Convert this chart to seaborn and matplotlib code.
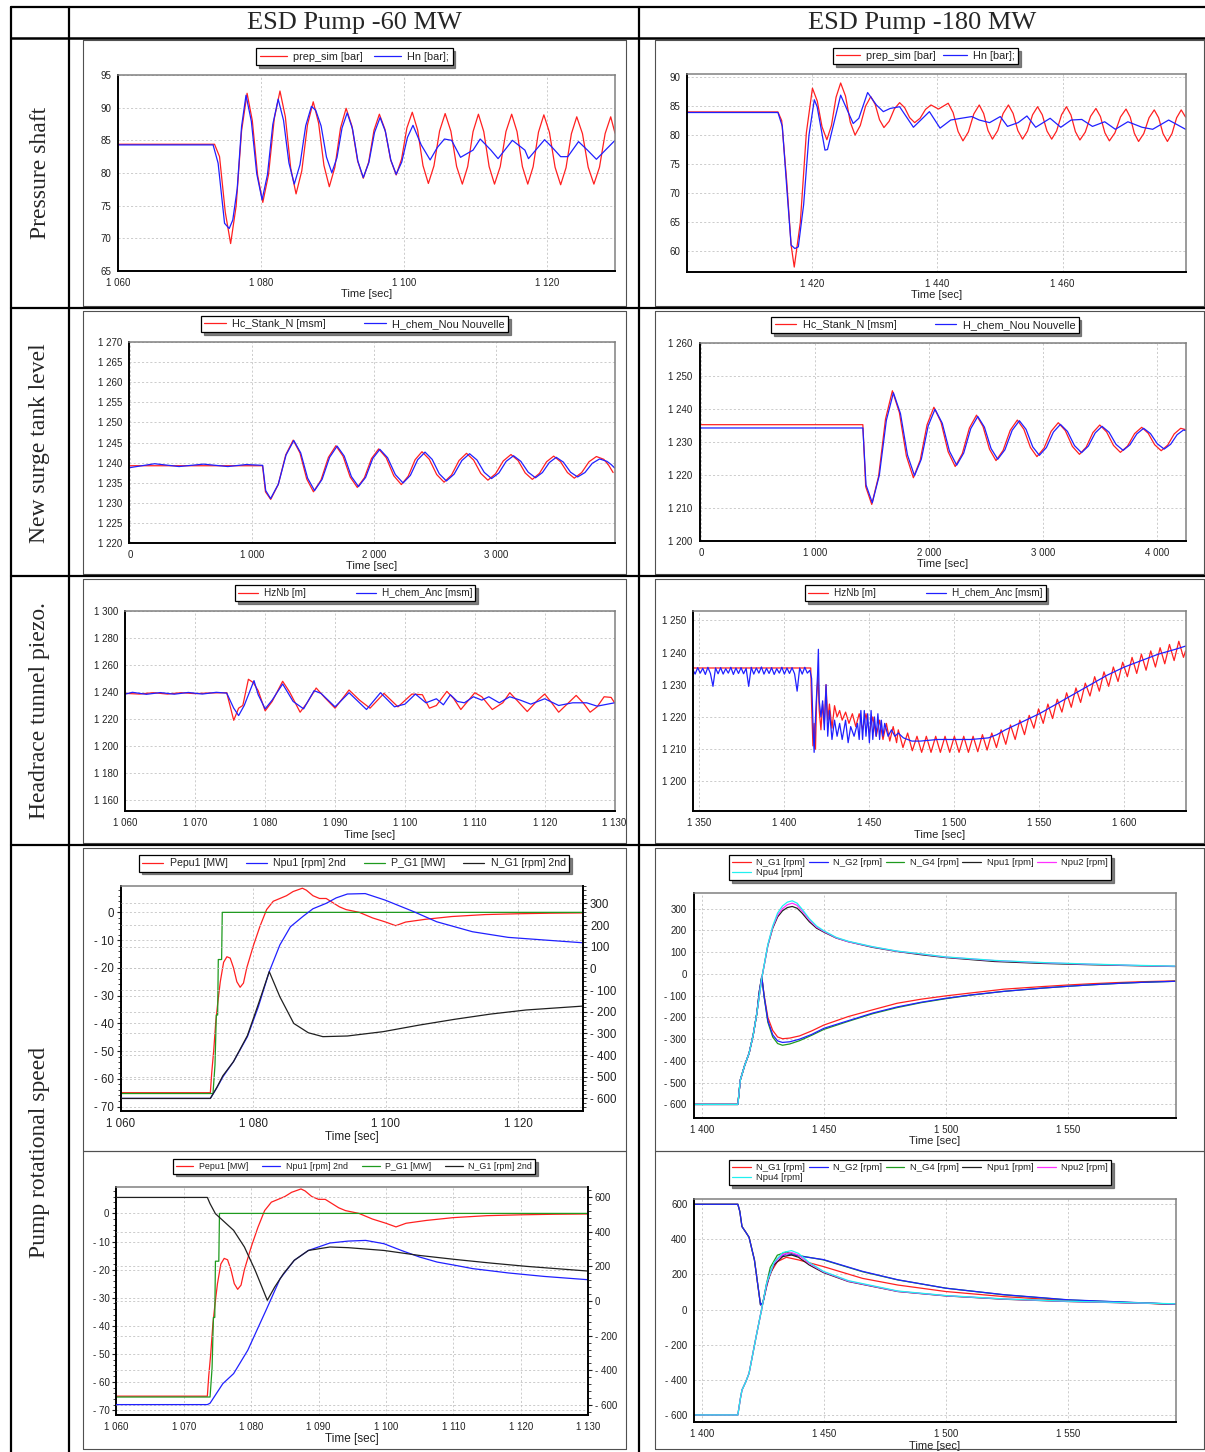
import matplotlib
matplotlib.use("Agg")
import matplotlib.pyplot as plt
import seaborn as sns
from matplotlib.ticker import MultipleLocator, FuncFormatter
from matplotlib.lines import Line2D

# ---------------- DATA ----------------
col_titles = ["ESD Pump -60 MW", "ESD Pump -180 MW"]
row_titles = ["Pressure shaft", "New surge tank level", "Headrace tunnel piezo.", "Pump rotational speed"]

# Panel 1: pressure shaft, -60 MW  (time [s], value [bar])
p1_prep = [(1060, 84.4), (1073.5, 84.4), (1074.2, 82.5), (1075.0, 74.0), (1075.75, 69.2), (1076.52, 74.95),
           (1077.28, 86.45), (1078.05, 92.2), (1078.78, 88.03), (1079.52, 79.68), (1080.25, 75.5), (1081.05, 79.76),
           (1081.85, 88.29), (1082.65, 92.55), (1083.4, 88.61), (1084.15, 80.74), (1084.9, 76.8), (1085.7, 80.33),
           (1086.5, 87.38), (1087.3, 90.9), (1088.05, 87.65), (1088.8, 81.15), (1089.55, 77.9), (1090.33, 80.9),
           (1091.12, 86.9), (1091.9, 89.9), (1092.7, 87.23), (1093.5, 81.88), (1094.3, 79.2), (1095.05, 81.65),
           (1095.8, 86.55), (1096.55, 89.0), (1097.33, 86.68), (1098.12, 82.03), (1098.9, 79.7), (1099.65, 82.1),
           (1100.4, 86.9), (1101.15, 89.3), (1101.9, 86.58), (1102.65, 81.13), (1103.4, 78.4), (1104.18, 81.08),
           (1104.97, 86.43), (1105.75, 89.1), (1106.55, 86.4), (1107.35, 81.0), (1108.15, 78.3), (1108.9, 80.98),
           (1109.65, 86.33), (1110.4, 89.0), (1111.15, 86.33), (1111.9, 80.98), (1112.65, 78.3), (1113.45, 80.98),
           (1114.25, 86.33), (1115.05, 89.0), (1115.8, 86.33), (1116.55, 80.98), (1117.3, 78.3), (1118.05, 80.95),
           (1118.8, 86.25), (1119.55, 88.9), (1120.33, 86.23), (1121.12, 80.88), (1121.9, 78.2), (1122.65, 80.8),
           (1123.4, 86.0), (1124.15, 88.6), (1124.95, 86.03), (1125.75, 80.88), (1126.55, 78.3), (1127.33, 80.88),
           (1128.12, 86.03), (1128.9, 88.6), (1129.5, 86.1)]
p1_hn = [(1060, 84.3), (1073.3, 84.3), (1074.0, 81.5), (1074.9, 72.3), (1075.55, 71.5), (1076.05, 72.8),
         (1076.67, 77.58), (1077.28, 87.13), (1077.9, 91.9), (1078.65, 87.9), (1079.4, 79.9), (1080.15, 75.9),
         (1080.9, 79.75), (1081.65, 87.45), (1082.4, 91.3), (1083.15, 88.05), (1083.9, 81.55), (1084.65, 78.3),
         (1085.45, 81.28), (1086.25, 87.23), (1087.05, 90.2), (1087.65, 89.6), (1088.4, 87.21), (1089.15, 82.44),
         (1089.9, 80.05), (1090.62, 82.34), (1091.33, 86.91), (1092.05, 89.2), (1092.8, 86.73), (1093.55, 81.78),
         (1094.3, 79.3), (1095.08, 81.6), (1095.87, 86.2), (1096.65, 88.5), (1097.4, 86.33), (1098.15, 81.98),
         (1098.9, 79.8), (1099.68, 81.68), (1100.47, 85.43), (1101.25, 87.3), (1102.4, 84.3), (1103.65, 82.0),
         (1104.65, 83.9), (1105.65, 85.2), (1106.65, 85.0), (1107.9, 82.4), (1109.65, 83.5), (1110.65, 85.2),
         (1112.15, 83.5), (1113.15, 82.2), (1115.15, 85.0), (1116.9, 83.5), (1117.4, 82.2), (1119.65, 85.1),
         (1120.65, 84.0), (1121.9, 82.5), (1122.9, 82.5), (1124.4, 84.8), (1125.65, 83.5), (1126.9, 82.1),
         (1129.5, 85.0)]

# Panel 2: pressure shaft, -180 MW
p2_prep = [(1400, 84.0), (1414.6, 84.0), (1415.2, 82.5), (1416.0, 72.0), (1416.7, 61.0), (1417.2, 57.2),
           (1418.17, 64.93), (1419.13, 80.38), (1420.1, 88.1), (1420.87, 85.88), (1421.63, 81.43), (1422.4, 79.2),
           (1423.13, 81.65), (1423.87, 86.55), (1424.6, 89.0), (1425.37, 86.75), (1426.13, 82.25), (1426.9, 80.0),
           (1427.73, 81.66), (1428.57, 84.99), (1429.4, 86.65), (1430.1, 85.31), (1430.8, 82.64), (1431.5, 81.3),
           (1432.33, 82.38), (1433.17, 84.53), (1434.0, 85.6), (1434.8, 84.74), (1435.6, 83.01), (1436.4, 82.15),
           (1437.27, 82.91), (1438.13, 84.44), (1439.0, 85.2), (1440.2, 84.5), (1441.75, 85.5), (1442.53, 83.88),
           (1443.32, 80.63), (1444.1, 79.0), (1444.97, 80.55), (1445.83, 83.65), (1446.7, 85.2), (1447.4, 83.73),
           (1448.1, 80.78), (1448.8, 79.3), (1449.65, 80.78), (1450.5, 83.73), (1451.35, 85.2), (1452.1, 83.73),
           (1452.85, 80.78), (1453.6, 79.3), (1454.4, 80.7), (1455.2, 83.5), (1456.0, 84.9), (1456.75, 83.5),
           (1457.5, 80.7), (1458.25, 79.3), (1459.03, 80.7), (1459.82, 83.5), (1460.6, 84.9), (1461.32, 83.46),
           (1462.03, 80.59), (1462.75, 79.15), (1463.6, 80.51), (1464.45, 83.24), (1465.3, 84.6), (1466.02, 83.2),
           (1466.73, 80.4), (1467.45, 79.0), (1468.33, 80.38), (1469.22, 83.13), (1470.1, 84.5), (1470.77, 83.1),
           (1471.43, 80.3), (1472.1, 78.9), (1472.93, 80.26), (1473.77, 82.99), (1474.6, 84.35), (1475.3, 82.99),
           (1476.0, 80.26), (1476.7, 78.9), (1477.43, 80.26), (1478.17, 82.99), (1478.9, 84.35), (1479.6, 83.1)]
p2_hn = [(1400, 83.9), (1414.6, 83.9), (1415.3, 81.5), (1416.0, 71.0), (1416.7, 61.0), (1417.3, 60.4),
         (1417.85, 60.7), (1418.7, 68.0), (1419.55, 80.0), (1420.4, 86.1), (1420.85, 84.9), (1422.1, 77.4),
         (1422.5, 77.5), (1424.6, 86.9), (1426.6, 82.0), (1427.5, 82.9), (1428.9, 87.35), (1430.3, 85.2),
         (1431.4, 84.05), (1432.5, 84.6), (1434.0, 84.9), (1436.2, 81.35), (1438.75, 84.05), (1440.45, 81.2),
         (1442.15, 82.6), (1443.8, 82.9), (1445.5, 83.2), (1446.7, 82.6), (1448.35, 82.15), (1450.05, 83.2),
         (1451.2, 81.5), (1452.9, 82.15), (1454.3, 83.3), (1455.7, 81.35), (1458.0, 82.9), (1459.7, 81.35),
         (1461.35, 82.6), (1463.05, 82.7), (1464.75, 81.5), (1466.7, 82.3), (1468.4, 81.0), (1470.4, 82.3),
         (1472.65, 81.35), (1474.35, 81.0), (1476.9, 82.6), (1479.6, 81.0)]

# Panel 3: surge tank level, -60 MW
p3_hc = [(-10, 1239.2), (1084, 1239.2), (1108, 1232.7), (1151, 1230.8), (1212.3, 1234.5), (1273.7, 1241.9),
         (1335, 1245.6), (1390.3, 1242.4), (1445.7, 1235.9), (1501, 1232.7), (1562.3, 1235.6), (1623.7, 1241.3),
         (1685, 1244.2), (1743.3, 1241.6), (1801.7, 1236.4), (1860, 1233.8), (1918.3, 1236.2), (1976.7, 1241.0),
         (2035, 1243.4), (2097, 1241.2), (2159, 1236.7), (2221, 1234.5), (2277.3, 1236.6), (2333.7, 1240.7),
         (2390, 1242.7), (2450.3, 1240.8), (2510.7, 1237.0), (2571, 1235.1), (2632.3, 1236.9), (2693.7, 1240.5),
         (2755, 1242.3), (2813.3, 1240.6), (2871.7, 1237.3), (2930, 1235.6), (2993, 1237.2), (3056, 1240.4),
         (3119, 1242.0), (3177.3, 1240.5), (3235.7, 1237.4), (3294, 1235.8), (3352.3, 1237.3), (3410.7, 1240.2),
         (3469, 1241.6), (3525.3, 1240.2), (3581.7, 1237.5), (3638, 1236.1), (3698.3, 1237.5), (3758.7, 1240.2),
         (3819, 1241.5), (3880, 1240.8), (3920, 1239.3), (3956, 1237.5)]
p3_hn = [(-10, 1238.7), (200, 1239.7), (400, 1239.0), (600, 1239.6), (800, 1239.0), (950, 1239.5), (1085, 1239.3),
         (1110, 1233.0), (1150, 1231.0), (1213.3, 1234.6), (1276.7, 1241.9), (1340, 1245.5), (1396.7, 1242.4),
         (1453.3, 1236.1), (1510, 1233.0), (1571.7, 1235.8), (1633.3, 1241.3), (1695, 1244.1), (1753.3, 1241.6),
         (1811.7, 1236.5), (1870, 1234.0), (1928.3, 1236.3), (1986.7, 1241.0), (2045, 1243.3), (2108.3, 1241.2),
         (2171.7, 1237.0), (2235, 1234.9), (2295, 1236.8), (2355, 1240.7), (2415, 1242.6), (2473.3, 1240.8),
         (2531.7, 1237.2), (2590, 1235.4), (2653.3, 1237.1), (2716.7, 1240.5), (2780, 1242.2), (2840, 1240.65),
         (2900, 1237.55), (2960, 1236.0), (3020, 1237.4), (3080, 1240.3), (3140, 1241.7), (3200, 1240.3),
         (3260, 1237.6), (3320, 1236.2), (3376.7, 1237.5), (3433.3, 1240.0), (3490, 1241.3), (3548.3, 1240.1),
         (3606.7, 1237.6), (3665, 1236.4), (3725, 1237.5), (3785, 1239.8), (3845, 1240.9), (3905, 1240.3),
         (3940, 1239.5), (3970, 1238.6)]

# Panel 4: surge tank level, -180 MW
p4_hc = [(-15, 1235.3), (1417, 1235.3), (1442, 1216.5), (1495, 1211.1), (1555.3, 1219.7), (1615.7, 1237.0),
         (1676, 1245.6), (1737.3, 1239.0), (1798.7, 1225.8), (1860, 1219.2), (1920, 1224.55), (1980, 1235.25),
         (2040, 1240.6), (2102.3, 1236.1), (2164.7, 1227.1), (2227, 1222.6), (2289.3, 1226.5), (2351.7, 1234.3),
         (2414, 1238.2), (2471, 1234.75), (2528, 1227.85), (2585, 1224.4), (2647.3, 1227.5), (2709.7, 1233.6),
         (2772, 1236.7), (2829.3, 1233.9), (2886.7, 1228.4), (2944, 1225.6), (3006.3, 1228.2), (3068.7, 1233.3),
         (3131, 1235.9), (3193, 1233.5), (3255, 1228.7), (3317, 1226.3), (3376.3, 1228.5), (3435.7, 1232.95),
         (3495, 1235.2), (3555.3, 1233.1), (3615.7, 1229.0), (3676, 1226.9), (3738.3, 1228.8), (3800.7, 1232.6),
         (3863, 1234.5), (3920, 1232.7), (3977, 1229.2), (4034, 1227.4), (4091, 1229.1), (4148, 1232.5),
         (4205, 1234.2), (4248, 1233.8)]
p4_hn = [(-15, 1234.3), (1417, 1234.3), (1445, 1217.0), (1500, 1211.6), (1561.7, 1220.0), (1623.3, 1236.65),
         (1685, 1245.0), (1746.7, 1238.7), (1808.3, 1226.1), (1870, 1219.8), (1930, 1224.85), (1990, 1234.95),
         (2050, 1240.0), (2113.3, 1235.75), (2176.7, 1227.25), (2240, 1223.0), (2301.7, 1226.7), (2363.3, 1234.1),
         (2425, 1237.8), (2483.3, 1234.55), (2541.7, 1228.05), (2600, 1224.8), (2663.3, 1227.7), (2726.7, 1233.6),
         (2790, 1236.5), (2848.3, 1233.9), (2906.7, 1228.6), (2965, 1226.0), (3026.7, 1228.35), (3088.3, 1233.05),
         (3150, 1235.4), (3211.7, 1233.25), (3273.3, 1228.95), (3335, 1226.8), (3395, 1228.8), (3455, 1232.8),
         (3515, 1234.8), (3576.7, 1233.0), (3638.3, 1229.3), (3700, 1227.5), (3760, 1229.2), (3820, 1232.5),
         (3880, 1234.2), (3940, 1232.6), (4000, 1229.5), (4060, 1227.9), (4116.7, 1229.35), (4173.3, 1232.25),
         (4230, 1233.7), (4248, 1233.5)]

# Panel 5: headrace piezo, -60 MW
p5_hz_t = [1060, 1062, 1064, 1066, 1068, 1070, 1072, 1074.5, 1075.5, 1076.2, 1076.8, 1077.6, 1078.3, 1079,
           1080, 1081, 1082.5, 1083.5, 1085, 1086, 1087.3, 1088.5, 1090, 1092, 1093.5, 1095, 1097, 1099, 1101,
           1102.5, 1103.5, 1104.5, 1106, 1107, 1108, 1110, 1111, 1112.5, 1114, 1115, 1116, 1117.5, 1119, 1120,
           1121, 1122, 1123, 1124.5, 1125.5, 1126.5, 1127.5, 1128.5, 1129.5, 1130]
p5_hz_v = [1239, 1238.5, 1239.5, 1238.5, 1239.5, 1238.8, 1239.3, 1239.5, 1219, 1228, 1230, 1249.5, 1247, 1241,
           1226, 1233, 1248, 1240, 1225, 1232, 1243, 1236, 1228, 1241.5, 1234, 1228, 1239, 1229, 1238.5,
           1238, 1228, 1230, 1240.5, 1235, 1227, 1239.5, 1236.5, 1227, 1232, 1239.5, 1234, 1225.5, 1234, 1238.5,
           1232, 1225, 1230, 1237.5, 1232, 1225, 1229, 1236.5, 1236, 1232]
p5_hc_t = [1060, 1061, 1063, 1065, 1067, 1069, 1071, 1073, 1074.5, 1075.5, 1076.2, 1077, 1078.4, 1079, 1080,
           1081, 1082.5, 1084, 1085.5, 1087, 1088, 1090, 1092, 1094.5, 1096.5, 1098.5, 1100, 1101.5, 1103,
           1104.5, 1105.5, 1106.5, 1107.5, 1108.5, 1109.8, 1111, 1112, 1113.5, 1115, 1116.5, 1118, 1120, 1122,
           1124, 1126, 1127.5, 1130]
p5_hc_v = [1238.5, 1239.8, 1238.3, 1239.6, 1238.4, 1239.7, 1238.5, 1239.8, 1239.2, 1228, 1222.5, 1230, 1248.5,
           1238, 1227.5, 1234, 1246, 1233, 1227.5, 1241, 1239, 1229, 1239.5, 1227, 1239.5, 1229, 1231, 1238.5,
           1232, 1235, 1230.5, 1238, 1233, 1232, 1236.5, 1234, 1236.5, 1232, 1236.5, 1234, 1231, 1235, 1230,
           1232, 1232, 1229.5, 1232]

# Panel 6: headrace piezo, -180 MW
p6_hz_t = [1346, 1415.5, 1416, 1416.8, 1417.5, 1418.3, 1419, 1419.8, 1420.5, 1421.5, 1422.5, 1423.5, 1424.5,
           1425.5, 1426.5, 1428, 1429.5, 1431, 1432.5, 1434, 1436, 1438, 1440, 1442, 1444, 1446, 1448, 1450,
           1452, 1454, 1456, 1458, 1460, 1462, 1464, 1466, 1467, 1469.75, 1472.5, 1475.25, 1478, 1480.75,
           1483.5, 1486.25, 1489, 1491.75, 1494.5, 1497.25, 1500, 1502.75, 1505.5, 1508.25, 1511, 1513.75,
           1516.5, 1519.25, 1522, 1524.75, 1527.5, 1530.25, 1533, 1535.75, 1538.5, 1541.25, 1544, 1546.75,
           1549.5, 1552.25, 1555, 1557.75, 1560.5, 1563.25, 1566, 1568.75, 1571.5, 1574.25, 1577, 1579.75,
           1582.5, 1585.25, 1588, 1590.75, 1593.5, 1596.25, 1599, 1601.75, 1604.5, 1607.25, 1610, 1612.75,
           1615.5, 1618.25, 1621, 1623.75, 1626.5, 1629.25, 1632, 1634.75, 1636]
p6_hz_v = [1235.2, 1235.2, 1224, 1211, 1218, 1210, 1226, 1233, 1222, 1216, 1224, 1218, 1230,
           1219, 1224, 1216.5, 1223.5, 1220, 1222, 1219, 1221.5, 1218, 1221, 1217, 1221, 1216, 1221, 1215,
           1220, 1214, 1219, 1213, 1218, 1212.5, 1217, 1212, 1216.0, 1210.5, 1215.0, 1209.5, 1214.0, 1209.0,
           1214.0, 1209.0, 1214.0, 1209.0, 1214.0, 1209.0, 1214.0, 1209.0, 1214.0, 1209.0, 1214.0, 1209.2,
           1214.5, 1209.7, 1215.0, 1210.5, 1216.0, 1211.5, 1217.5, 1213.0, 1219.0, 1214.5, 1220.5, 1216.5,
           1222.5, 1218.0, 1224.0, 1219.5, 1225.5, 1221.5, 1227.5, 1223.0, 1229.0, 1224.5, 1230.5, 1226.5,
           1232.5, 1228.0, 1234.0, 1229.5, 1235.5, 1231.0, 1237.0, 1232.5, 1238.5, 1233.5, 1239.5, 1234.5,
           1240.5, 1235.5, 1241.5, 1236.5, 1242.5, 1237.5, 1243.5, 1238.5, 1240.5]
p6_hc_t = [1346, 1347.5, 1349, 1350.5, 1352, 1353.5, 1355, 1356.5, 1358, 1359.5, 1361, 1362.5, 1364, 1365.5,
           1367, 1368.5, 1370, 1371.5, 1373, 1374.5, 1376, 1377.5, 1379, 1380.5, 1382, 1383.5, 1385, 1386.5,
           1388, 1389.5, 1391, 1392.5, 1394, 1395.5, 1397, 1398.5, 1400, 1401.5, 1403, 1404.5, 1406, 1407.5,
           1409, 1410.5, 1412, 1413.5, 1415,
           1416, 1417, 1417.5, 1418.5, 1419.5, 1420, 1420.5, 1421.5, 1422.5, 1423.5, 1424.5, 1425.5, 1426.5,
           1428, 1429.5, 1431, 1432.5, 1434, 1436, 1437.5, 1439, 1441, 1443, 1444, 1445, 1446, 1447, 1448,
           1449, 1450, 1451, 1452, 1453, 1454, 1455, 1456, 1457, 1458, 1459, 1461, 1463, 1465, 1467, 1470,
           1475, 1480, 1490, 1500, 1510, 1520, 1525, 1530, 1540, 1550, 1560, 1570, 1580, 1590, 1600, 1610,
           1620, 1630, 1636]
p6_hc_v = [1234.8, 1233.3, 1235.3, 1233.6, 1235.1, 1233.2, 1235.4, 1233.5, 1229.5, 1235.2, 1233.4, 1235.3,
           1233.3, 1235.0, 1233.6, 1235.4, 1233.2, 1235.2, 1233.5, 1235.3, 1233.4, 1235.1, 1229.5, 1235.4,
           1233.3, 1235.2, 1233.6, 1235.5, 1233.3, 1235.1, 1233.5, 1235.3, 1233.2, 1235.0, 1233.6, 1235.4,
           1233.3, 1235.2, 1233.5, 1235.3, 1233.4, 1228.0, 1235.2, 1233.3, 1235.4, 1233.6, 1234.5,
           1232, 1215, 1209, 1222, 1233, 1241, 1225, 1220, 1225, 1216, 1230, 1214, 1222,
           1213, 1219, 1214, 1218, 1213, 1219, 1212, 1217, 1214, 1218, 1213, 1222, 1213, 1222, 1214,
           1221, 1212, 1222, 1213, 1220, 1214, 1221, 1213, 1219, 1214, 1218, 1214, 1216, 1214, 1215, 1213.5,
           1212.5, 1212.5, 1213, 1213, 1213, 1213.5, 1214.5, 1216, 1218.5, 1221, 1224, 1227, 1230, 1233, 1235.5,
           1237.5, 1239.5, 1241, 1242]

# Panel 7: pump speed (P in MW on left axis, rpm on right axis), -60 MW
pepu1_t = [1060, 1073.5, 1073.7, 1074, 1074.3, 1074.6, 1075, 1075.5, 1076, 1076.5, 1077, 1077.5, 1078, 1078.5,
           1079, 1080, 1081, 1082, 1083, 1084, 1085, 1086, 1087.4, 1088, 1089, 1090, 1091, 1092, 1093, 1094,
           1096, 1098, 1100, 1101.5, 1103, 1106, 1110, 1115, 1120, 1125, 1130]
pepu1_v = [-65, -65, -58, -50, -40, -33, -25, -18, -16, -16.5, -20, -25, -27, -25.5,
           -20, -12, -5, 1, 4, 5, 6, 7.5, 8.7, 8, 6, 5, 5, 3.5, 2, 1,
           0, -2, -3.5, -4.8, -3.5, -2.5, -1.5, -0.8, -0.5, -0.3, -0.2]
pg1_t = [1060, 1073.9, 1074.2, 1074.4, 1074.6, 1074.7, 1075.2, 1075.3, 1130]
pg1_v = [-65.3, -65.3, -55, -37, -37, -17, -17, 0, 0]
p7_npu1_t = [1060, 1073.5, 1074.5, 1075.4, 1077, 1079.1, 1080.75, 1082.4, 1084, 1085.6, 1087.5, 1089, 1091,
             1092.5, 1094.2, 1096.9, 1099.9, 1104.2, 1107.7, 1113.1, 1118.5, 1123.9, 1129.8]
p7_npu1_v = [-600, -600, -550, -500, -430, -315, -177, -15, 108, 192, 240, 275, 300,
             325, 343, 345, 315, 262, 215, 169, 143, 131, 118]
p7_ng1_t = [1060, 1073.5, 1074.5, 1075.4, 1077, 1079.1, 1080.75, 1082.4, 1084, 1086.1, 1088.3, 1090.5, 1094.2,
            1099.6, 1105, 1110.4, 1115.8, 1121.2, 1129.8]
p7_ng1_v = [-600, -600, -548, -495, -430, -310, -165, -15, -131, -254, -297, -315, -312,
            -292, -262, -235, -211, -192, -174]

# Panel 9: pump speed, second plot, -60 MW
p9_npu1_t = [1060, 1073.5, 1073.9, 1075.8, 1077.4, 1079.5, 1082.2, 1084.3, 1086.4, 1088.5, 1091.7, 1094.4, 1097,
             1099.7, 1102.3, 1105, 1107.6, 1110.3, 1112.9, 1118.2, 1123.5, 1130]
p9_npu1_v = [-598, -598, -590, -477, -419, -284, -54, 129, 235, 292, 335, 346, 350,
             331, 292, 254, 225, 206, 187, 162, 142, 123]
p9_ng1_t = [1060, 1073.5, 1073.9, 1074.7, 1075.8, 1077.4, 1079, 1080.6, 1081.6, 1082.4, 1083.5, 1084.8, 1086.4,
            1088.5, 1091.7, 1094.4, 1099.7, 1105, 1110.3, 1115.6, 1120.9, 1130]
p9_ng1_v = [598, 598, 562, 504, 465, 408, 312, 177, 81, 4, 81, 158, 235,
            292, 312, 308, 292, 263, 240, 219, 200, 173]

# Panel 8: pump speed, -180 MW
p8_t_up = [1396.5, 1414.7, 1415.7, 1417.5, 1419.3, 1421, 1422.5, 1424.5, 1425.5, 1427, 1429, 1431, 1433, 1435,
           1437, 1439, 1441, 1444, 1447, 1450, 1455, 1460, 1470, 1480, 1490, 1500, 1520, 1540, 1560, 1580, 1594]
p8_npu1 = [-600, -600, -488, -420, -365, -280, -180, -20, 40, 130, 210, 262, 290, 305,
           310, 302, 280, 240, 210, 192, 165, 148, 122, 103, 88, 75, 57, 48, 42, 37, 34]
p8_npu2 = [-600, -600, -488, -420, -365, -280, -180, -20, 40, 132, 215, 270, 300, 318,
           325, 315, 290, 248, 215, 195, 166, 148, 124, 104, 91, 77, 61, 51, 44, 38, 35]
p8_npu4 = [-600, -600, -488, -420, -365, -280, -180, -20, 42, 135, 220, 280, 312, 330,
           336, 325, 298, 254, 220, 198, 168, 150, 125, 105, 92, 78, 62, 52, 45, 39, 36]
p8_t_dn = [1396.5, 1414.7, 1415.7, 1417.5, 1419.3, 1421, 1422.5, 1423.5, 1424.5, 1425.5, 1427, 1429, 1431, 1433,
           1436, 1440, 1445, 1450, 1460, 1470, 1480, 1490, 1500, 1510, 1524, 1540, 1550, 1560, 1570, 1580, 1594]
p8_ng1 = [-600, -600, -488, -420, -365, -280, -180, -80, -12, -100, -200, -260, -290, -298,
          -295, -285, -262, -235, -196, -165, -135, -116, -101, -88, -70, -58, -51, -45, -40, -36, -32]
p8_ng2 = [-600, -600, -488, -420, -365, -280, -180, -80, -12, -105, -215, -280, -308, -315,
          -312, -300, -278, -250, -215, -180, -152, -130, -112, -97, -80, -65, -57, -50, -44, -39, -34]
p8_ng4 = [-600, -600, -488, -420, -365, -280, -180, -80, -12, -108, -222, -290, -320, -328,
          -322, -307, -282, -255, -218, -183, -155, -132, -114, -98, -80, -65, -57, -50, -44, -39, -34]

# Panel 10: pump speed, second plot, -180 MW
p10_t_ng = [1396.8, 1414.7, 1415.5, 1416.4, 1418, 1419.3, 1421.5, 1424, 1425, 1426.5, 1428, 1430.9, 1434.6,
            1439.6, 1449.8, 1465.8, 1480.3, 1500, 1523.9, 1550, 1594.3]
p10_ng1 = [600, 600, 560, 473, 440, 412, 283, 27, 40, 130, 207, 273, 298,
           283, 245, 178, 140, 103, 74, 51, 30]
p10_ng2 = [600, 600, 560, 473, 440, 412, 283, 27, 40, 135, 215, 290, 318,
           306, 285, 218, 170, 122, 85, 56, 31]
p10_ng4 = [600, 600, 560, 473, 440, 412, 283, 27, 40, 150, 240, 310, 328,
           308, 283, 216, 169, 122, 84, 55, 30]
p10_t_pu = [1396.8, 1414.7, 1415.7, 1416.4, 1418, 1419.3, 1422.2, 1424.4, 1426.6, 1429.5, 1433.1, 1436.7,
            1439.6, 1444, 1449.8, 1460, 1480.3, 1500, 1523.9, 1550, 1594.3]
p10_npu1 = [-600, -600, -510, -458, -410, -363, -154, -2, 150, 254, 302, 311,
            298, 254, 211, 160, 103, 78, 59, 46, 32]
p10_npu2 = [-600, -600, -510, -458, -410, -363, -154, -2, 152, 262, 315, 325,
            310, 262, 215, 162, 104, 79, 60, 47, 32]
p10_npu4 = [-600, -600, -510, -458, -410, -363, -154, -2, 155, 268, 325, 336,
            320, 268, 218, 165, 106, 80, 61, 48, 33]

# ---------------- STYLE ----------------
sns.set_style("white")
plt.rcParams['font.family'] = ['Liberation Sans', 'DejaVu Sans']

RED, BLUE, GREEN, BLACK, MAG, CYAN = '#ff2020', '#2020ff', '#1e9a1e', '#202020', '#ff30ff', '#20f0f0'
W, H = 1205, 1452
fig = plt.figure(figsize=(W / 100, H / 100), dpi=100)
fig.patch.set_facecolor('white')


def fx(x):
    return x / W


def fy(y):
    return 1 - y / H


def fmt(v, pos=None):
    r = round(v)
    if abs(v - r) < 1e-6:
        v = int(r)
    s = f"{abs(v):,}".replace(",", " ")
    return ("- " + s) if v < 0 else s


def unzip(pairs):
    return [p[0] for p in pairs], [p[1] for p in pairs]


def make_ax(l, r, t, b):
    return fig.add_axes([fx(l), fy(b), (r - l) / W, (b - t) / H])


def style_ax(ax, xlim, ylim, xmaj, xmin, ymaj, ymin, fs=7, xfs=7, labfs=8):
    ax.set_xlim(xlim)
    ax.set_ylim(ylim)
    ax.xaxis.set_major_locator(MultipleLocator(xmaj))
    ax.xaxis.set_minor_locator(MultipleLocator(xmin))
    ax.yaxis.set_major_locator(MultipleLocator(ymaj))
    ax.yaxis.set_minor_locator(MultipleLocator(ymin))
    ax.xaxis.set_major_formatter(FuncFormatter(fmt))
    ax.yaxis.set_major_formatter(FuncFormatter(fmt))
    ax.grid(True, which='major', color='#c4c4c4', ls=(0, (2.5, 2.5)), lw=0.6)
    ax.set_axisbelow(True)
    for s in ['left', 'bottom']:
        ax.spines[s].set_color('black')
        ax.spines[s].set_linewidth(1.4)
    for s in ['top', 'right']:
        ax.spines[s].set_color('#808080')
        ax.spines[s].set_linewidth(1.1)
    ax.tick_params(which='major', length=3, width=0.8, direction='out', pad=2, colors='#222222')
    ax.tick_params(axis='y', which='major', labelsize=fs)
    ax.tick_params(axis='x', which='major', labelsize=xfs)
    ax.tick_params(which='minor', length=2, width=0.6, direction='out', colors='#222222')
    ax.tick_params(top=False, right=False, which='both')
    ax.set_xlabel('Time [sec]', fontsize=labfs, labelpad=1, color='#222222')
    ax.set_ylabel('')


def draw(ax, t, v, color, label):
    sns.lineplot(x=t, y=v, ax=ax, color=color, lw=0.9, estimator=None, sort=False,
                 label=label, legend=False)


def add_legend(ax, handles, labels, cx, cy, ncol, fs, cs=0.8, hl=2.0):
    leg = ax.legend(handles, labels, loc='center', bbox_to_anchor=(fx(cx), fy(cy)),
                    bbox_transform=fig.transFigure, ncol=ncol, frameon=True, fancybox=False,
                    shadow={'color': '#606060', 'alpha': 0.8}, edgecolor='black', fontsize=fs,
                    handlelength=hl, handletextpad=0.6, columnspacing=cs, borderpad=0.3,
                    labelspacing=0.1, borderaxespad=0)
    leg.get_frame().set_linewidth(0.9)
    for txt in leg.get_texts():
        txt.set_color('#222222')
    return leg


def two_series(ax, s1, c1, l1, s2, c2, l2, cx, cy, fs, cs, hl=2.0):
    t1, v1 = s1
    t2, v2 = s2
    draw(ax, t1, v1, c1, l1)
    draw(ax, t2, v2, c2, l2)
    h, l = ax.get_legend_handles_labels()
    add_legend(ax, h, l, cx, cy, 2, fs, cs, hl)


# ---------------- PANELS ----------------
# Pressure shaft
ax = make_ax(118, 615, 75, 271)
style_ax(ax, (1060, 1129.5), (65, 95), 20, 4, 5, 1)
two_series(ax, unzip(p1_prep), RED, 'prep_sim [bar]', unzip(p1_hn), BLUE, 'Hn [bar];',
           354.5, 56.5, 7.8, 1.0, 2.5)

ax = make_ax(687, 1185.6, 74.3, 271.7)
style_ax(ax, (1400.1, 1479.6), (56.4, 90.5), 20, 4, 5, 1)
two_series(ax, unzip(p2_prep), RED, 'prep_sim [bar]', unzip(p2_hn), BLUE, 'Hn [bar];',
           925.5, 56, 7.8, 0.6, 2.2)

# New surge tank level
ax = make_ax(129, 614.6, 342.3, 542.7)
style_ax(ax, (-10, 3968), (1220, 1270), 1000, 200, 5, 1)
two_series(ax, unzip(p3_hc), RED, 'Hc_Stank_N [msm]', unzip(p3_hn), BLUE, 'H_chem_Nou Nouvelle',
           354.5, 324, 7.8, 3.5)

ax = make_ax(699.6, 1185.6, 343.3, 541)
style_ax(ax, (-15, 4248), (1200, 1260), 1000, 200, 10, 2)
two_series(ax, unzip(p4_hc), RED, 'Hc_Stank_N [msm]', unzip(p4_hn), BLUE, 'H_chem_Nou Nouvelle',
           925, 325, 7.8, 3.5)

# Headrace tunnel piezo
ax = make_ax(125.4, 614.6, 610.7, 811.3)
style_ax(ax, (1060, 1130), (1151.3, 1300.5), 10, 2, 20, 4)
two_series(ax, (p5_hz_t, p5_hz_v), RED, 'HzNb [m]', (p5_hc_t, p5_hc_v), BLUE, 'H_chem_Anc [msm]',
           355, 593, 7.2, 5.0)

ax = make_ax(693, 1185.6, 611.3, 811.3)
style_ax(ax, (1346.25, 1636), (1190.7, 1252.8), 50, 10, 10, 2)
two_series(ax, (p6_hz_t, p6_hz_v), RED, 'HzNb [m]', (p6_hc_t, p6_hc_v), BLUE, 'H_chem_Anc [msm]',
           925.5, 593, 7.2, 5.0)


def twin_panel(box, xlim, xmaj, xmin, ylim_l, ylim_r, rmaj, rmin, npu_t, npu_v, ng_t, ng_v,
               lcx, lcy, lfs, tfs, cs):
    ax = make_ax(*box)
    style_ax(ax, xlim, ylim_l, xmaj, xmin, 10, 2, fs=tfs, xfs=tfs, labfs=8.5)
    ax.spines['right'].set_visible(False)
    ax2 = ax.twinx()
    ax2.set_ylim(ylim_r)
    ax2.yaxis.set_major_locator(MultipleLocator(rmaj))
    ax2.yaxis.set_minor_locator(MultipleLocator(rmin))
    ax2.yaxis.set_major_formatter(FuncFormatter(fmt))
    ax2.grid(True, axis='y', which='major', color='#c4c4c4', ls=(0, (2.5, 2.5)), lw=0.6)
    for s in ['left', 'top', 'bottom']:
        ax2.spines[s].set_visible(False)
    ax2.spines['right'].set_color('black')
    ax2.spines['right'].set_linewidth(1.4)
    ax2.tick_params(which='major', length=3, width=0.8, direction='out', pad=2, labelsize=tfs, colors='#222222')
    ax2.tick_params(which='minor', length=2, width=0.6, direction='out', colors='#222222')
    draw(ax, pepu1_t, pepu1_v, RED, 'Pepu1 [MW]')
    draw(ax2, npu_t, npu_v, BLUE, 'Npu1 [rpm] 2nd')
    draw(ax, pg1_t, pg1_v, GREEN, 'P_G1 [MW]')
    draw(ax2, ng_t, ng_v, BLACK, 'N_G1 [rpm] 2nd')
    ax2.set_ylabel('')
    h1, l1 = ax.get_legend_handles_labels()
    h2, l2 = ax2.get_legend_handles_labels()
    handles = [h1[0], h2[0], h1[1], h2[1]]
    labels = [l1[0], l2[0], l1[1], l2[1]]
    add_legend(ax2, handles, labels, lcx, lcy, 4, lfs, cs)


def six_panel(box, xlim, ylim, ymaj, ymin, t_ng, ng1, ng2, ng4, t_pu, npu1, npu2, npu4, lcx, lcy):
    ax = make_ax(*box)
    style_ax(ax, xlim, ylim, 50, 10, ymaj, ymin)
    draw(ax, t_ng, ng1, RED, 'N_G1 [rpm]')
    draw(ax, t_ng, ng4, GREEN, 'N_G4 [rpm]')
    draw(ax, t_ng, ng2, BLUE, 'N_G2 [rpm]')
    draw(ax, t_pu, npu1, BLACK, 'Npu1 [rpm]')
    draw(ax, t_pu, npu2, MAG, 'Npu2 [rpm]')
    draw(ax, t_pu, npu4, CYAN, 'Npu4 [rpm]')
    h, l = ax.get_legend_handles_labels()
    order = [0, 5, 2, 1, 3, 4]
    add_legend(ax, [h[i] for i in order], [l[i] for i in order], lcx, lcy, 5, 6.8, 0.35)


# Pump rotational speed
twin_panel((121, 583, 886, 1111), (1060, 1129.8), 20, 4, (-71.6, 9.5), (-658, 380), 100, 20,
           p7_npu1_t, p7_npu1_v, p7_ng1_t, p7_ng1_v, 354, 863.5, 7.6, 8.3, 1.7)
twin_panel((116.4, 588, 1186.7, 1415), (1060, 1130), 10, 2, (-71.7, 9.5), (-658, 660), 200, 40,
           p9_npu1_t, p9_npu1_v, p9_ng1_t, p9_ng1_v, 354, 1166.5, 6.4, 7, 1.6)

six_panel((693.5, 1175.7, 893.3, 1117.7), (1396.5, 1594.3), (-661, 370.5), 100, 20,
          p8_t_dn, p8_ng1, p8_ng2, p8_ng4, p8_t_up, p8_npu1, p8_npu2, p8_npu4, 920, 867.5)
six_panel((694.2, 1175.7, 1199, 1422.3), (1396.8, 1594.3), (-642, 630), 200, 40,
          p10_t_ng, p10_ng1, p10_ng2, p10_ng4, p10_t_pu, p10_npu1, p10_npu2, p10_npu4, 920, 1172.5)


# ---------------- TABLE FRAME ----------------
def hline(y, x0, x1, lw=1.6, color='black'):
    fig.add_artist(Line2D([fx(x0), fx(x1)], [fy(y), fy(y)], transform=fig.transFigure, color=color, lw=lw))


def vline(x, y0, y1, lw=1.6, color='black'):
    fig.add_artist(Line2D([fx(x), fx(x)], [fy(y0), fy(y1)], transform=fig.transFigure, color=color, lw=lw))


# chart widget frames
for (y0, y1) in [(40, 306), (311, 574), (579, 843), (848, 1151), (1151, 1449)]:
    for (x0, x1) in [(83, 626), (655, 1204)]:
        hline(y0, x0, x1, lw=0.8, color='#505050')
        hline(y1, x0, x1, lw=0.8, color='#505050')
        vline(x0, y0, y1, lw=0.8, color='#505050')
        vline(x1, y0, y1, lw=0.8, color='#505050')

hline(7, 11, 1205)
hline(38, 11, 1205, lw=1.8)
for y in [308, 576, 845]:
    hline(y, 11, 1205)
for x in [11, 69, 639]:
    vline(x, 7, 1452)

fig.text(fx(354), fy(23), col_titles[0], family=['Liberation Serif', 'DejaVu Serif'], size=19,
         ha='center', va='center')
fig.text(fx(922), fy(23), col_titles[1], family=['Liberation Serif', 'DejaVu Serif'], size=19,
         ha='center', va='center')
for yc, lab in zip([173, 443, 711, 1152], row_titles):
    fig.text(fx(40), fy(yc), lab, family=['Liberation Serif', 'DejaVu Serif'], size=17,
             rotation=90, ha='center', va='center')

fig.savefig("out.png", dpi=100, facecolor='white')
